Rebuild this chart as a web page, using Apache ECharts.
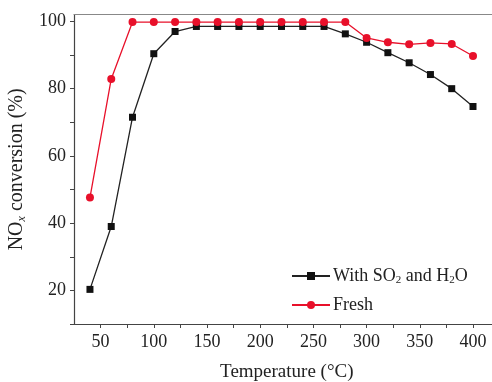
<!DOCTYPE html>
<html><head><meta charset="utf-8">
<script src="https://cdn.jsdelivr.net/npm/echarts@6/dist/echarts.min.js"></script>
<style>html,body{margin:0;padding:0;background:#fff}#c{width:492px;height:382px}</style>
</head><body><div id="c"></div>
<script>
const temps = [40,60,80,100,120,140,160,180,200,220,240,260,280,300,320,340,360,380,400];
const withSO2 = [20.3,39,71.5,90.4,97,98.5,98.5,98.5,98.5,98.5,98.5,98.5,96.3,93.8,90.7,87.7,84.2,80,74.7];
const fresh = [47.6,82.9,99.8,99.8,99.8,99.8,99.8,99.8,99.8,99.8,99.8,99.8,99.8,95.1,93.8,93.2,93.6,93.3,89.7];
const xTickLabels = [50,100,150,200,250,300,350,400];
const yTickLabels = [20,40,60,80,100];
const seriesNames = ['With SO2 and H2O','Fresh'];

const font = 'Liberation Serif, Times New Roman, serif';
const chart = echarts.init(document.getElementById('c'));
const axisCol = '#444';
chart.setOption({
  animation:false,
  backgroundColor:'#fff',
  grid:{left:74, top:14.7, right:-7.6, bottom:58, containLabel:false, outerBoundsMode:'none'},
  xAxis:[{
    type:'value', min:25, max:425, interval:25,
    name:'Temperature (°C)', nameLocation:'middle', nameGap:39,
    nameTextStyle:{fontFamily:font, fontSize:19, color:'#222'},
    axisLine:{show:true, onZero:false, lineStyle:{color:axisCol, width:1.2}},
    axisTick:{show:true, length:4, lineStyle:{color:axisCol}},
    axisLabel:{fontFamily:font, fontSize:18, color:'#222', margin:9,
      formatter:v=> xTickLabels.includes(v)? String(v):'', showMaxLabel:false, showMinLabel:false},
    splitLine:{show:false}
  },{
    type:'value', min:25, max:425, position:'top',
    axisLine:{show:true, onZero:false, lineStyle:{color:'#888', width:1.2}},
    axisTick:{show:false}, axisLabel:{show:false}, splitLine:{show:false}
  }],
  yAxis:[{
    type:'value', min:10, max:102, interval:10,
    name:'{n|NO}{s|x}{n| conversion (%)}', nameLocation:'middle', nameGap:43,
    nameTextStyle:{fontFamily:font, fontSize:20, color:'#222',
      rich:{n:{fontFamily:font, fontSize:20, color:'#222'},
            s:{fontFamily:font, fontSize:12, fontStyle:'italic', color:'#222', padding:[10,0,0,0]}}},
    axisLine:{show:true, onZero:false, lineStyle:{color:axisCol, width:1.2}},
    axisTick:{show:true, length:4, lineStyle:{color:axisCol}},
    axisLabel:{fontFamily:font, fontSize:18, color:'#222', margin:8,
      formatter:v=> yTickLabels.includes(v)? String(v):'', showMaxLabel:false},
    splitLine:{show:false}
  },{
    type:'value', min:10, max:102, position:'right',
    axisLine:{show:true, onZero:false, lineStyle:{color:'#888'}},
    axisTick:{show:false}, axisLabel:{show:false}, splitLine:{show:false}
  }],
  legend:{
    left:286, top:262, orient:'vertical', itemWidth:38, itemHeight:10, itemGap:10,
    data:seriesNames,
    formatter:n=> n==='Fresh' ? '{t|Fresh}' : '{t|With SO}{s|2}{t| and H}{s|2}{t|O}',
    textStyle:{fontFamily:font, fontSize:18, color:'#222', padding:[0,0,0,-2],
      rich:{t:{fontFamily:font, fontSize:18, color:'#222'},
            s:{fontFamily:font, fontSize:11, color:'#222', padding:[9,0,0,0]}}}
  },
  series:[{
    name:seriesNames[0], type:'line', data:temps.map((t,i)=>[t,withSO2[i]]),
    symbol:'rect', symbolSize:7, color:'#111',
    lineStyle:{color:'#222', width:1.3}, itemStyle:{color:'#111'}, z:3
  },{
    name:seriesNames[1], type:'line', data:temps.map((t,i)=>[t,fresh[i]]),
    symbol:'circle', symbolSize:8, color:'#e8102a',
    lineStyle:{color:'#e8102a', width:1.3}, itemStyle:{color:'#e8102a'}, z:4
  }]
});
</script></body></html>
